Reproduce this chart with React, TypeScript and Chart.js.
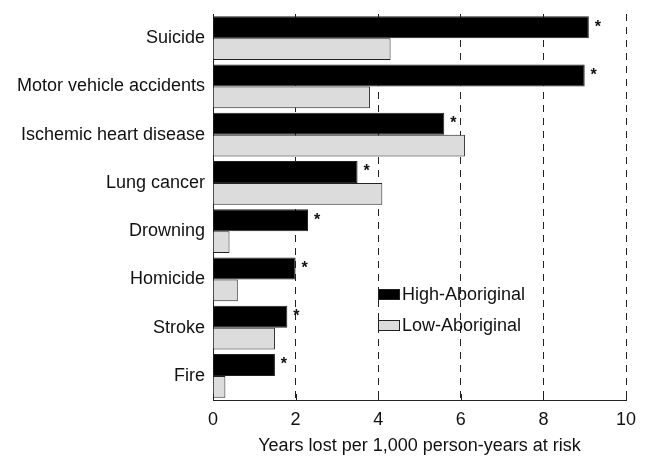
import React, { useEffect, useRef } from "react";
import { Chart, registerables } from "chart.js";

Chart.register(...registerables);

// Causes of death, top to bottom
const causes = [
  "Suicide",
  "Motor vehicle accidents",
  "Ischemic heart disease",
  "Lung cancer",
  "Drowning",
  "Homicide",
  "Stroke",
  "Fire",
];

// Years of life lost per 1,000 person-years at risk
const highAboriginal = [9.1, 9.0, 5.6, 3.5, 2.3, 2.0, 1.8, 1.5];
const lowAboriginal = [4.3, 3.8, 6.1, 4.1, 0.4, 0.6, 1.5, 0.3];

// Statistically significant differences are flagged with an asterisk
const significant = [true, true, true, true, true, true, true, true];

const xTicks = [0, 2, 4, 6, 8, 10];

const FONT = "'Liberation Sans', Arial, sans-serif";

// Short inward tick marks on the bottom axis
const innerTicks = {
  id: "innerTicks",
  afterDraw(chart: any) {
    const { ctx, chartArea, scales } = chart;
    const x = scales.x;
    ctx.save();
    ctx.strokeStyle = "#222";
    ctx.lineWidth = 1;
    xTicks.forEach((v) => {
      const px = Math.round(x.getPixelForValue(v)) + 0.5;
      ctx.beginPath();
      ctx.moveTo(px, chartArea.bottom);
      ctx.lineTo(px, chartArea.bottom - 6);
      ctx.stroke();
    });
    ctx.restore();
  },
};

// Asterisks after the High-Aboriginal bars
const asterisks = {
  id: "asterisks",
  afterDatasetsDraw(chart: any) {
    const { ctx } = chart;
    const meta = chart.getDatasetMeta(0);
    ctx.save();
    ctx.fillStyle = "#111";
    ctx.font = `bold 16px ${FONT}`;
    ctx.textAlign = "center";
    ctx.textBaseline = "middle";
    meta.data.forEach((bar: any, i: number) => {
      if (!significant[i]) return;
      const top = bar.y - bar.height / 2;
      ctx.fillText("*", bar.x + 9, top + 11);
    });
    ctx.restore();
  },
};

// Legend placed inside the plot area
const insideLegend = {
  id: "insideLegend",
  afterDraw(chart: any) {
    const { ctx, chartArea } = chart;
    const x0 = chartArea.left + 165;
    const y0 = chartArea.top + 275;
    ctx.save();
    ctx.font = `18px ${FONT}`;
    ctx.textBaseline = "middle";
    ctx.textAlign = "left";
    chart.data.datasets.forEach((ds: any, i: number) => {
      const y = y0 + i * 31;
      ctx.fillStyle = ds.backgroundColor;
      ctx.fillRect(x0, y, 22, 11);
      ctx.strokeStyle = "#222";
      ctx.lineWidth = 1;
      ctx.strokeRect(x0 + 0.5, y + 0.5, 21, 10);
      ctx.fillStyle = "#111";
      ctx.fillText(ds.label, x0 + 24, y + 6);
    });
    ctx.restore();
  },
};

export default function App() {
  const canvasRef = useRef<HTMLCanvasElement | null>(null);

  useEffect(() => {
    if (!canvasRef.current) return;
    const chart = new Chart(canvasRef.current, {
      type: "bar",
      data: {
        labels: causes,
        datasets: [
          {
            label: "High-Aboriginal",
            data: highAboriginal,
            backgroundColor: "#000000",
            borderColor: "#222222",
            borderWidth: 1,
            categoryPercentage: 0.91,
            barPercentage: 1.0,
          },
          {
            label: "Low-Aboriginal",
            data: lowAboriginal,
            backgroundColor: "#dcdcdc",
            borderColor: "#222222",
            borderWidth: 1,
            categoryPercentage: 0.91,
            barPercentage: 1.0,
          },
        ],
      },
      options: {
        indexAxis: "y",
        animation: false,
        responsive: true,
        maintainAspectRatio: false,
        layout: { padding: { top: 14, right: 19, left: 0, bottom: 0 } },
        plugins: {
          legend: { display: false },
          tooltip: { enabled: false },
        },
        scales: {
          x: {
            min: 0,
            max: 10,
            afterFit: (s: any) => {
              s.height = 62;
              s.paddingLeft = 0;
              s.paddingRight = 0;
            },
            afterBuildTicks: (s: any) => {
              s.ticks = xTicks.map((v) => ({ value: v }));
            },
            grid: {
              color: "#222",
              lineWidth: 1,
              drawTicks: false,
            },
            border: { display: true, color: "#222", width: 1, dash: [7, 6] },
            ticks: {
              color: "#111",
              font: { family: FONT, size: 18 },
              padding: 9,
            },
            title: {
              display: true,
              text: "Years lost per 1,000 person-years at risk",
              color: "#111",
              font: { family: FONT, size: 18 },
              padding: { top: 0, bottom: 5 },
            },
          },
          y: {
            afterFit: (s: any) => {
              s.width = 213;
              s.paddingTop = 0;
              s.paddingBottom = 0;
            },
            grid: { drawOnChartArea: false, drawTicks: false },
            border: { display: true, color: "#222", width: 1 },
            ticks: {
              color: "#111",
              font: { family: FONT, size: 18 },
              padding: 8,
            },
          },
        },
      },
      plugins: [innerTicks, asterisks, insideLegend],
    });
    return () => chart.destroy();
  }, []);

  return (
    <div style={{ position: "fixed", left: 0, top: 0, width: 645, height: 462, background: "#fff" }}>
      <canvas ref={canvasRef} />
    </div>
  );
}
